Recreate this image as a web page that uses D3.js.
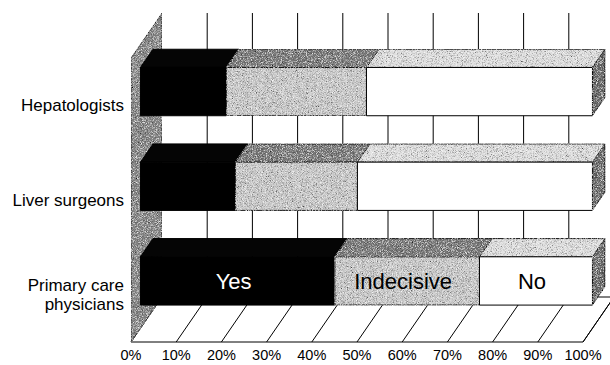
<!DOCTYPE html>
<html>
<head>
<meta charset="utf-8">
<script src="https://cdn.jsdelivr.net/npm/d3@7"></script>
<style>
  html, body { margin: 0; padding: 0; background: #fff; }
  svg { display: block; font-family: "Liberation Sans", Arial, Helvetica, sans-serif; }
</style>
</head>
<body>
<svg id="chart" width="610" height="365"></svg>
<script>
// Survey answers by group (percent of respondents)
const categories = ["Hepatologists", "Liver surgeons", "Primary care physicians"];
const categoryLines = [["Hepatologists"], ["Liver surgeons"], ["Primary care", "physicians"]];
const seriesNames = ["Yes", "Indecisive", "No"];
const yesValues = [19, 21, 43];
const indecisiveValues = [31, 27, 32];
const noValues = [50, 52, 25];
const xTickValues = [0, 10, 20, 30, 40, 50, 60, 70, 80, 90, 100];
const xTickLabels = xTickValues.map(v => v + "%");
// the group whose bar carries the series names
const labelledCategory = "Primary care physicians";

const svg = d3.select("#chart");

// halftone-like grain for the shaded faces
const defs = svg.append("defs");
const grain = defs.append("filter").attr("id", "grain")
  .attr("x", 0).attr("y", 0).attr("width", "100%").attr("height", "100%")
  .attr("filterUnits", "objectBoundingBox");
grain.append("feTurbulence").attr("type", "fractalNoise")
  .attr("baseFrequency", 1.2).attr("numOctaves", 2).attr("seed", 7).attr("result", "n");
grain.append("feColorMatrix").attr("in", "n").attr("type", "matrix")
  .attr("values", "0.65 0.65 0.65 0 -0.47  0.65 0.65 0.65 0 -0.47  0.65 0.65 0.65 0 -0.47  0 0 0 0 1")
  .attr("result", "g");
grain.append("feBlend").attr("in", "SourceGraphic").attr("in2", "g")
  .attr("mode", "overlay").attr("result", "b");
grain.append("feComposite").attr("in", "b").attr("in2", "SourceGraphic").attr("operator", "in");

// front plane of the 3-D box
const x = d3.scaleLinear().domain([0, 100]).range([131, 583]);
const y = d3.scaleBand().domain(categories.slice().reverse()).range([342, 58])
  .paddingInner(0.49).paddingOuter(0.245);

// depth vector of the box and depth slot taken by the bars
const DX = 31, DY = -45;
const dFront = 0.305, dBack = 0.71;
const P = (v, py, d) => [x(v) + d * DX, py + d * DY];
const poly = pts => "M" + pts.map(p => p.join(",")).join("L") + "Z";

const fronts = { "Yes": "#000", "Indecisive": "#c8c8c8", "No": "#ffffff" };
const tops = { "Yes": "#050505", "Indecisive": "#7a7a7a", "No": "#dcdcdc" };
const grainy = { "Yes": false, "Indecisive": true, "No": false };
const sideColor = "#6a6a6a";
const wallColor = "#868686";

const gWalls = svg.append("g");

// back wall grid lines
const gridTop = 58 + DY, gridBottom = 342 + DY;
gWalls.selectAll("line.grid").data(xTickValues.slice(1)).join("line")
  .attr("x1", d => x(d) + DX).attr("x2", d => x(d) + DX)
  .attr("y1", gridTop).attr("y2", gridBottom)
  .attr("stroke", "#000").attr("stroke-width", 1);

// floor
gWalls.append("path")
  .attr("d", poly([P(0, 342, 0), P(100, 342, 0), P(100, 342, 1), P(0, 342, 1)]))
  .attr("fill", "#fff").attr("stroke", "#000").attr("stroke-width", 1);
gWalls.selectAll("line.floor").data(xTickValues).join("line")
  .attr("x1", d => P(d, 342, 0)[0]).attr("y1", d => P(d, 342, 0)[1])
  .attr("x2", d => P(d, 342, 1)[0]).attr("y2", d => P(d, 342, 1)[1])
  .attr("stroke", "#000").attr("stroke-width", 1);

// left wall
gWalls.append("path")
  .attr("d", poly([P(0, 342, 0), P(0, 58, 0), P(0, 58, 1), P(0, 342, 1)]))
  .attr("fill", wallColor).attr("stroke", "#333").attr("stroke-width", 1)
  .attr("filter", "url(#grain)");

// stacked bars
const rows = categories.map((c, i) => {
  const vals = [yesValues[i], indecisiveValues[i], noValues[i]];
  let acc = 0;
  const segs = vals.map((v, k) => {
    const s = { name: seriesNames[k], x0: acc, x1: acc + v };
    acc += v;
    return s;
  });
  return { category: c, segs };
});

const gBars = svg.append("g");
rows.forEach(row => {
  const top = y(row.category), bot = top + y.bandwidth();
  const g = gBars.append("g");
  row.segs.forEach(s => {
    // top face
    g.append("path")
      .attr("d", poly([P(s.x0, top, dFront), P(s.x1, top, dFront), P(s.x1, top, dBack), P(s.x0, top, dBack)]))
      .attr("fill", tops[s.name]).attr("stroke", "#000").attr("stroke-width", 1)
      .attr("filter", s.name === "Yes" ? null : "url(#grain)");
    // front face
    g.append("path")
      .attr("d", poly([P(s.x0, top, dFront), P(s.x1, top, dFront), P(s.x1, bot, dFront), P(s.x0, bot, dFront)]))
      .attr("fill", fronts[s.name]).attr("stroke", "#000").attr("stroke-width", 1)
      .attr("filter", grainy[s.name] ? "url(#grain)" : null);
  });
  const last = row.segs[row.segs.length - 1];
  // right end face
  g.append("path")
    .attr("d", poly([P(last.x1, top, dFront), P(last.x1, top, dBack), P(last.x1, bot, dBack), P(last.x1, bot, dFront)]))
    .attr("fill", sideColor).attr("stroke", "#000").attr("stroke-width", 1)
    .attr("filter", "url(#grain)");

  if (row.category === labelledCategory) {
    g.selectAll("text.series").data(row.segs).join("text")
      .attr("x", s => (P(s.x0, top, dFront)[0] + P(s.x1, top, dFront)[0]) / 2 - 4)
      .attr("y", (P(0, top, dFront)[1] + P(0, bot, dFront)[1]) / 2)
      .attr("dy", "0.36em")
      .attr("text-anchor", "middle")
      .attr("font-size", 22)
      .attr("fill", s => s.name === "Yes" ? "#fff" : "#000")
      .text(s => s.name);
  }
});

// category labels
const gCat = svg.append("g");
categories.forEach((c, i) => {
  const lines = categoryLines[i];
  const cy = y(c) + y.bandwidth() / 2;
  const t = gCat.append("text")
    .attr("text-anchor", "end")
    .attr("font-size", 17)
    .attr("fill", "#000");
  lines.forEach((ln, k) => {
    t.append("tspan")
      .attr("x", 124)
      .attr("y", cy + (k - (lines.length - 1) / 2) * 19)
      .attr("dy", "0.36em")
      .text(ln);
  });
});

// x axis tick labels
svg.append("g").selectAll("text").data(xTickValues).join("text")
  .attr("x", d => x(d))
  .attr("y", 355)
  .attr("dy", "0.36em")
  .attr("text-anchor", "middle")
  .attr("font-size", 14.5)
  .attr("fill", "#000")
  .text((d, i) => xTickLabels[i]);
</script>
</body>
</html>
